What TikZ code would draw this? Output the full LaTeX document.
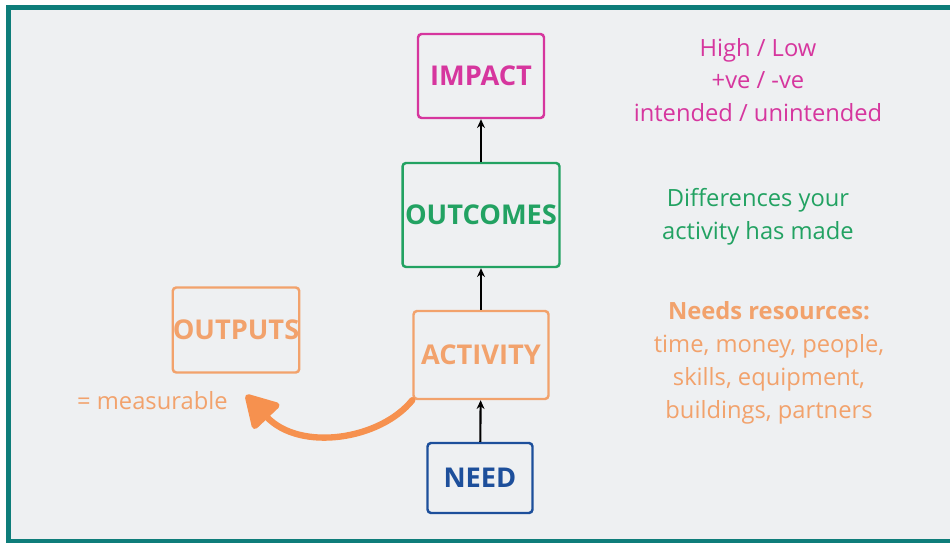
\documentclass[tikz,border=0pt]{standalone}
\usepackage{fontspec}
\setmainfont{Open Sans}
\usetikzlibrary{arrows.meta,positioning}
\definecolor{frameteal}{HTML}{0E7D7A}
\definecolor{bggray}{HTML}{EEF0F2}
\definecolor{impactpink}{HTML}{D6369E}
\definecolor{outgreen}{HTML}{22A262}
\definecolor{actorange}{HTML}{F2A26C}
\definecolor{arroworange}{HTML}{F6914F}
\definecolor{needblue}{HTML}{1D4F9B}
\tikzset{
    >=Stealth,
    every node/.style={rounded corners=2pt}
}

\begin{document}
\begin{tikzpicture}[x=0.02cm, y=-0.02cm,
  stagebox/.style={draw, line width=1.4pt, inner sep=0pt, font=\bfseries\fontsize{15.5}{18}\selectfont},
  notetext/.style={align=center, font=\fontsize{13.5}{18.7}\selectfont},
  linkarrow/.style={-{Stealth[length=5pt,width=4.5pt]}, line width=1.2pt}
]
  % Frame and background
  \useasboundingbox (0,0) rectangle (950,543);
  \fill[white] (0,0) rectangle (950,543);
  \fill[frameteal] (6,5) rectangle (950,543);
  \fill[bggray] (11,10) rectangle (950,539);

  % The chain, from need up to impact
  \node[stagebox, impactpink, minimum width=2.52cm, minimum height=1.68cm] (impact)   at (481,76)  {IMPACT};
  \node[stagebox, outgreen,   minimum width=3.14cm, minimum height=2.08cm] (outcomes) at (481,215) {OUTCOMES};
  \node[stagebox, actorange,  minimum width=2.70cm, minimum height=1.76cm] (activity) at (481,355) {ACTIVITY};
  \node[stagebox, needblue,   minimum width=2.10cm, minimum height=1.40cm] (need)     at (480,478) {NEED};
  \node[stagebox, actorange,  minimum width=2.52cm, minimum height=1.70cm] (outputs)  at (236,330) {OUTPUTS};

  % Links
  \draw[linkarrow] (need) -- (activity);
  \draw[linkarrow] (activity) -- (outcomes);
  \draw[linkarrow] (outcomes) -- (impact);

  % Side notes
  \node[notetext, impactpink] (impactnote) at (758,80) {High / Low\\+ve / -ve\\intended / unintended};
  \node[notetext, outgreen] (outcomenote) at (758,217) {Differences your\\activity has made};
  \node[notetext, actorange] (activitynote) at (769,363) {\textbf{Needs resources:}\\time, money, people,\\skills, equipment,\\buildings, partners};
  \node[notetext, actorange, anchor=west] (measure) at (71,401) {= measurable};

  % Big curved arrow from activity to outputs
  \coordinate (outtip) at (246,395);
  \draw[arroworange, line width=3.6pt, line cap=round, -{Triangle[length=0.7cm,width=0.78cm,round]}]
    (activity.south west) .. controls (380,440) and (300,452) .. (outtip);
\end{tikzpicture}
\end{document}
